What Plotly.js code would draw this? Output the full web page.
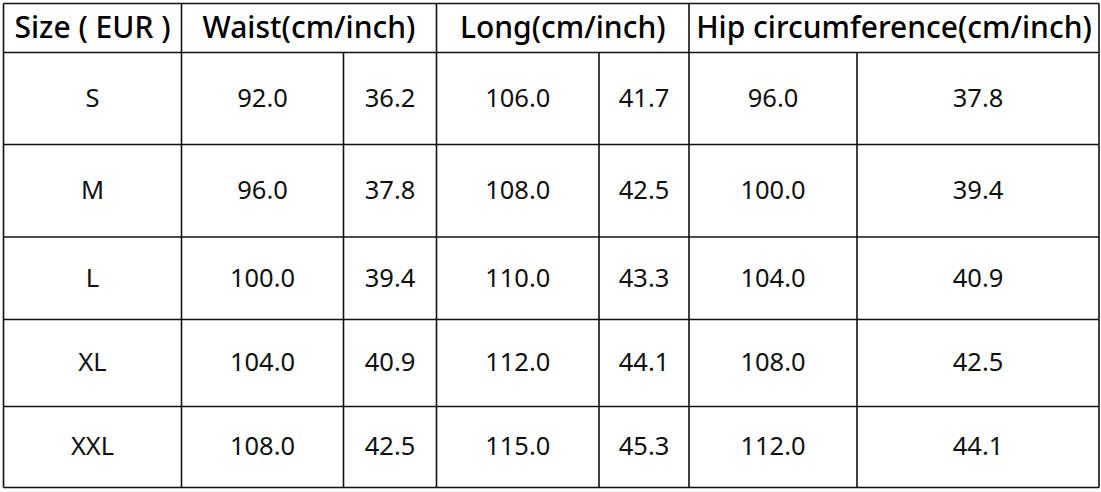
<!DOCTYPE html>
<html>
<head>
<meta charset="utf-8">
<script src="https://cdn.plot.ly/plotly-3.0.1.min.js"></script>
<style>
  html, body { margin: 0; padding: 0; background: #fff; }
  #chart { width: 1101px; height: 492px; }
</style>
</head>
<body>
<div id="chart"></div>
<script>
// table contents
var headers = ['Size ( EUR )', 'Waist(cm/inch)', 'Long(cm/inch)', 'Hip circumference(cm/inch)'];
var sizes = ['S', 'M', 'L', 'XL', 'XXL'];
var waistCm = [92.0, 96.0, 100.0, 104.0, 108.0];
var waistIn = [36.2, 37.8, 39.4, 40.9, 42.5];
var longCm = [106.0, 108.0, 110.0, 112.0, 115.0];
var longIn = [41.7, 42.5, 43.3, 44.1, 45.3];
var hipCm = [96.0, 100.0, 104.0, 108.0, 112.0];
var hipIn = [37.8, 39.4, 40.9, 42.5, 44.1];

// grid geometry (in axis units = px)
var colEdges = [3.5, 181.5, 343.5, 436.5, 599, 689, 857, 1099];
var rowEdges = [3.5, 52.5, 144.5, 237, 319.5, 406.5, 487.5];
// header groups: which column edges each header spans
var headerSpans = [[0, 1], [1, 3], [3, 5], [5, 7]];

var lineColor = '#111111';
var lineWidth = 1.6;
var fontFamily = '"Noto Sans", "Open Sans", sans-serif';
var bodyShift = 2;   // nudge text a little lower in its cell
var headShift = 2.5;

var body = [
    sizes,
    waistCm.map(v => v.toFixed(1)),
    waistIn.map(v => v.toFixed(1)),
    longCm.map(v => v.toFixed(1)),
    longIn.map(v => v.toFixed(1)),
    hipCm.map(v => v.toFixed(1)),
    hipIn.map(v => v.toFixed(1))
];

function mid(a, i) { return (a[i] + a[i + 1]) / 2; }

// body text
var bx = [], by = [], bt = [];
for (var c = 0; c < body.length; c++) {
    for (var r = 0; r < body[c].length; r++) {
        bx.push(mid(colEdges, c));
        by.push(mid(rowEdges, r + 1) + bodyShift);
        bt.push(body[c][r]);
    }
}

// header text
var hx = [], hy = [], ht = [];
for (var h = 0; h < headers.length; h++) {
    hx.push((colEdges[headerSpans[h][0]] + colEdges[headerSpans[h][1]]) / 2);
    hy.push(mid(rowEdges, 0) + headShift);
    ht.push(headers[h]);
}

// grid lines
var shapes = [];
rowEdges.forEach(function(y) {
    shapes.push({type: 'line', x0: colEdges[0], x1: colEdges[colEdges.length - 1], y0: y, y1: y,
        line: {color: lineColor, width: lineWidth}});
});
var headerEdgeIdx = [0, 1, 3, 5, 7];
colEdges.forEach(function(x, i) {
    var top = headerEdgeIdx.indexOf(i) >= 0 ? rowEdges[0] : rowEdges[1];
    shapes.push({type: 'line', x0: x, x1: x, y0: top, y1: rowEdges[rowEdges.length - 1],
        line: {color: lineColor, width: lineWidth}});
});

var traces = [
    {
        x: bx, y: by, text: bt, mode: 'text', type: 'scatter',
        textfont: {family: fontFamily, size: 25.5, color: '#111'},
        hoverinfo: 'skip'
    },
    {
        x: hx, y: hy, text: ht, mode: 'text', type: 'scatter',
        textfont: {family: fontFamily, size: 30, color: '#000', weight: 500},
        hoverinfo: 'skip'
    }
];

var layout = {
    width: 1101,
    height: 492,
    margin: {l: 0, r: 0, t: 0, b: 0},
    paper_bgcolor: '#fff',
    plot_bgcolor: '#fff',
    showlegend: false,
    xaxis: {range: [0, 1101], visible: false, fixedrange: true},
    yaxis: {range: [492, 0], visible: false, fixedrange: true},
    shapes: shapes
};

Plotly.newPlot('chart', traces, layout, {displayModeBar: false, staticPlot: true});
</script>
</body>
</html>
